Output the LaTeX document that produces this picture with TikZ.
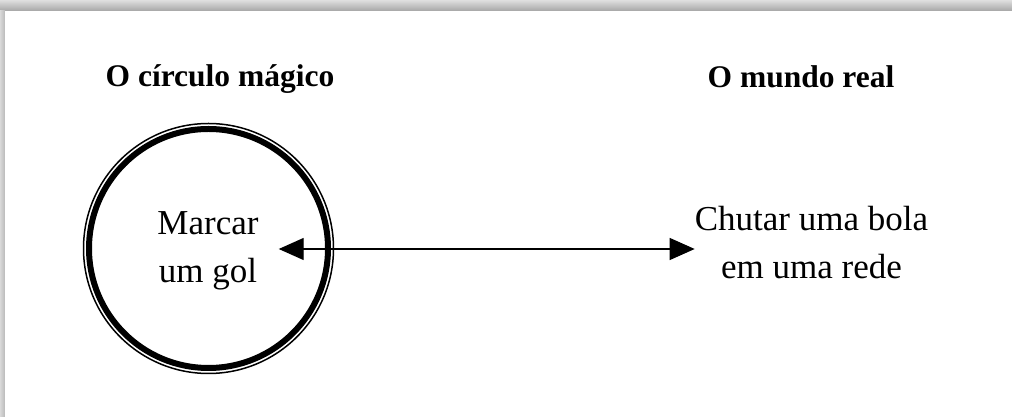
\documentclass[tikz,border=0pt]{standalone}
\usepackage{fontspec}
\setmainfont{Liberation Serif}
\usetikzlibrary{arrows.meta}
\begin{document}
\begin{tikzpicture}[x=1pt,y=1pt,
  titulo/.style={anchor=base, inner sep=0pt, font=\fontsize{31.5}{38}\selectfont\bfseries},
  texto/.style={align=center, font=\fontsize{35}{48}\selectfont}]
\useasboundingbox (0,0) rectangle (1012,417);
% moldura com sombra
\shade[top color=gray!25, bottom color=gray!70] (0,406) rectangle (1012,417);
\shade[left color=gray!30, right color=gray!55] (0,0) rectangle (5,406);
\fill[white] (5,0) rectangle (1012,406);

\node[titulo] (t1) at (220,330) {O círculo mágico};
\node[titulo] (t2) at (801,329) {O mundo real};

\node[circle, draw, line width=1.5pt, minimum size=250pt, inner sep=0pt] (anel) at (208.5,168.5) {};
\node[circle, draw, line width=6pt, minimum size=239pt, inner sep=0pt] (circulo) at (208.5,168.5) {};

\node[texto, inner xsep=20pt, inner ysep=0pt] (marcar) at (208,168) {\strut Marcar\\\strut um gol};
\node[texto, inner sep=0pt] (chutar) at (811.5,172.5) {\strut Chutar uma bola\\\strut em uma rede};

\draw[line width=1.3pt, {Triangle[length=25pt,width=22pt]}-{Triangle[length=25pt,width=22pt]}] (marcar.east) -- (marcar.east -| chutar.west);
\end{tikzpicture}
\end{document}
